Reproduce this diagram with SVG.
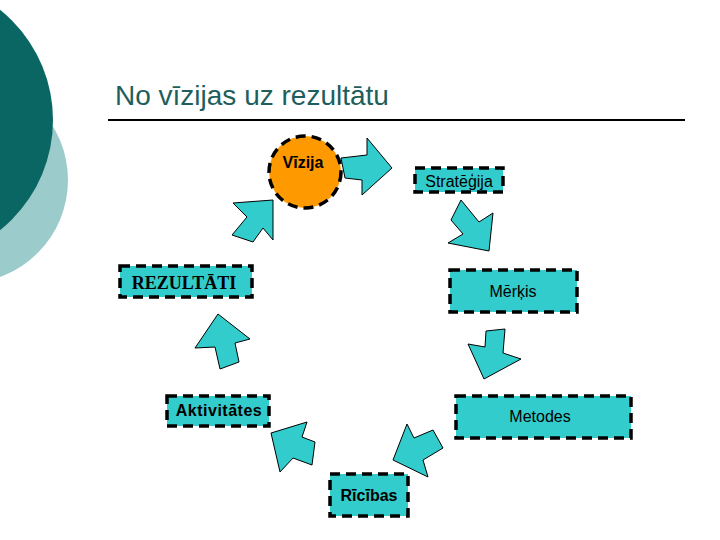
<svg xmlns="http://www.w3.org/2000/svg" width="720" height="540" viewBox="0 0 720 540">
<style>
.box{fill:#33CCCC;stroke:#000;stroke-width:3.5;stroke-dasharray:10 6}
.arr{fill:#33CCCC;stroke:#000;stroke-width:1;stroke-linejoin:miter}
.t{font-family:"Liberation Sans",Arial,sans-serif;font-size:16px;fill:#000;text-anchor:middle}
.b{font-weight:bold}
</style>
<rect width="720" height="540" fill="#fff"/>
<g id="background">
<circle cx="-35" cy="180" r="103" fill="#9CCBCB"/>
<circle cx="-88" cy="120" r="141" fill="#0A6663"/>
</g>
<g id="title">
<text x="115" y="105" font-family="'Liberation Sans',Arial,sans-serif" font-size="28" fill="#1E5E5C">No vīzijas uz rezultātu</text>
<line x1="108" y1="120" x2="685" y2="120" stroke="#000" stroke-width="2"/>
</g>
<g id="connectors">
<polygon class="arr" points="341,158 367,155 367,138 392,168 362,195 362,180 345,178"/>
<polygon class="arr" points="461,200 451,220 463,234 448,243 489,251 493,213 479,222"/>
<polygon class="arr" points="486,331 505,329 503,353 521,359 484,379 468,344 485,347"/>
<polygon class="arr" points="407,424 414,438 433,430 443,448 423,460 428,477 393,460"/>
<polygon class="arr" points="307,422 302,437 315,442 312,465 293,458 280,472 271,433"/>
<polygon class="arr" points="218,314 250,339 235,343 239,362 220,369 215,347 195,348"/>
<polygon class="arr" points="273,200 273,240 263,228 253,242 232,235 247,217 233,203"/>
</g>
<g id="vizija">
<circle cx="305" cy="172" r="36" fill="#FF9900" stroke="#000" stroke-width="3.5" stroke-dasharray="10 6"/>
<text class="t b" x="303" y="168" font-size="19">Vīzija</text>
</g>
<g id="strategija">
<rect class="box" x="415" y="168" width="88" height="24"/>
<text class="t" x="459" y="187" font-size="17">Stratēģija</text>
</g>
<g id="merkis">
<rect class="box" x="450" y="270" width="127" height="42"/>
<text class="t" x="513" y="297">Mērķis</text>
</g>
<g id="metodes">
<rect class="box" x="456" y="396" width="175" height="42"/>
<text class="t" x="540" y="422">Metodes</text>
</g>
<g id="ricibas">
<rect class="box" x="330" y="474" width="78" height="42"/>
<text class="t b" x="369" y="501">Rīcības</text>
</g>
<g id="aktivitates">
<rect class="box" x="167" y="396" width="102" height="30"/>
<text class="t b" x="219" y="416" font-size="15" letter-spacing="0.5">Aktivitātes</text>
</g>
<g id="rezultati">
<rect class="box" x="120" y="266" width="132" height="31"/>
<text x="184" y="289" text-anchor="middle" font-family="'Liberation Serif','Times New Roman',serif" font-size="18" font-weight="bold">REZULTĀTI</text>
</g>
</svg>
